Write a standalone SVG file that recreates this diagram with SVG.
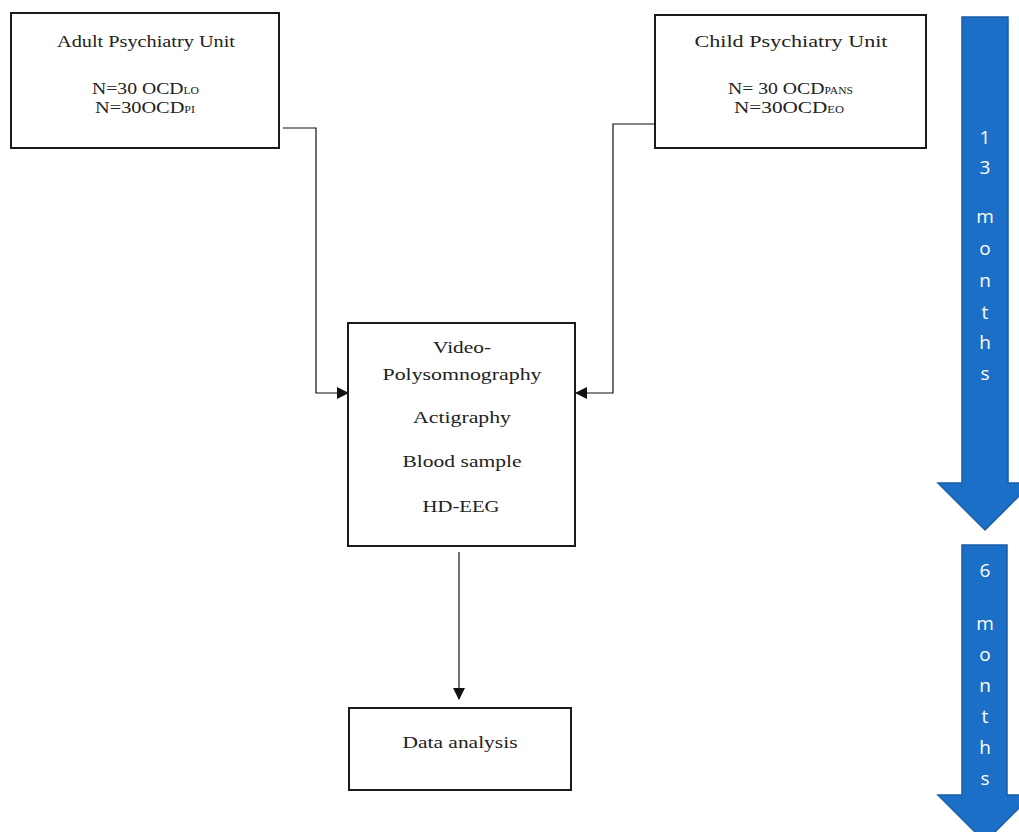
<svg xmlns="http://www.w3.org/2000/svg" width="1019" height="832" viewBox="0 0 1019 832">
<style>
.box{fill:#fff;stroke:#1a1a1a;stroke-width:2}
.t{font-family:"Liberation Serif","DejaVu Serif",serif;font-size:17px;fill:#222;text-anchor:middle}
.sub{font-size:10px}
.conn{fill:none;stroke:#111;stroke-width:1.2}
.barrow{fill:#1b6fc6;stroke:#1a5ea6;stroke-width:1.5}
.bt{font-family:"Open Sans","Liberation Sans",sans-serif;font-size:19px;fill:#fff;text-anchor:middle}
</style>
<defs>
<marker id="ah" markerUnits="userSpaceOnUse" markerWidth="12" markerHeight="12" refX="11" refY="6" orient="auto">
<path d="M0,0 L12,6 L0,12 z" fill="#111"/>
</marker>
</defs>
<g id="timeline1">
<polygon class="barrow" points="962,17 1008,17 1008,483 1032,483 985,530 938,483 962,483"/>
<text class="bt" x="985" y="144">1</text>
<text class="bt" x="985" y="174">3</text>
<text class="bt" x="985" y="223">m</text>
<text class="bt" x="985" y="255">o</text>
<text class="bt" x="985" y="287">n</text>
<text class="bt" x="985" y="319">t</text>
<text class="bt" x="985" y="349">h</text>
<text class="bt" x="985" y="380">s</text>
</g>
<g id="timeline2">
<polygon class="barrow" points="962,545 1007,545 1007,795 1032,795 985,842 938,795 962,795"/>
<text class="bt" x="985" y="577">6</text>
<text class="bt" x="985" y="630">m</text>
<text class="bt" x="985" y="661">o</text>
<text class="bt" x="985" y="692">n</text>
<text class="bt" x="985" y="723">t</text>
<text class="bt" x="985" y="754">h</text>
<text class="bt" x="985" y="785">s</text>
</g>
<g id="connectors">
<path class="conn" d="M283,128 H316 V393 H348" marker-end="url(#ah)"/>
<path class="conn" d="M655,124 H613 V393 H576" marker-end="url(#ah)"/>
<path class="conn" d="M459,552 V699" marker-end="url(#ah)"/>
</g>
<g id="adult">
<rect class="box" x="11" y="13" width="268" height="135"/>
<text class="t" x="146" y="47" textLength="178" lengthAdjust="spacingAndGlyphs">Adult Psychiatry Unit</text>
<text class="t" x="145.5" y="94" textLength="107" lengthAdjust="spacingAndGlyphs">N=30 OCD<tspan class="sub">LO</tspan></text>
<text class="t" x="145" y="113" textLength="100" lengthAdjust="spacingAndGlyphs">N=30OCD<tspan class="sub">PI</tspan></text>
</g>
<g id="child">
<rect class="box" x="655" y="15" width="271" height="133"/>
<text class="t" x="791" y="47" textLength="193" lengthAdjust="spacingAndGlyphs">Child Psychiatry Unit</text>
<text class="t" x="790.5" y="94" textLength="125" lengthAdjust="spacingAndGlyphs">N= 30 OCD<tspan class="sub">PANS</tspan></text>
<text class="t" x="789" y="113" textLength="110" lengthAdjust="spacingAndGlyphs">N=30OCD<tspan class="sub">EO</tspan></text>
</g>
<g id="measures">
<rect class="box" x="348" y="323" width="227" height="223"/>
<text class="t" x="462" y="353" textLength="58" lengthAdjust="spacingAndGlyphs">Video-</text>
<text class="t" x="462" y="380" textLength="159" lengthAdjust="spacingAndGlyphs">Polysomnography</text>
<text class="t" x="462" y="423" textLength="98" lengthAdjust="spacingAndGlyphs">Actigraphy</text>
<text class="t" x="462" y="467" textLength="119" lengthAdjust="spacingAndGlyphs">Blood sample</text>
<text class="t" x="461" y="512" textLength="77" lengthAdjust="spacingAndGlyphs">HD-EEG</text>
</g>
<g id="analysis">
<rect class="box" x="349" y="708" width="222" height="82"/>
<text class="t" x="460" y="748" textLength="115" lengthAdjust="spacingAndGlyphs">Data analysis</text>
</g>
</svg>
